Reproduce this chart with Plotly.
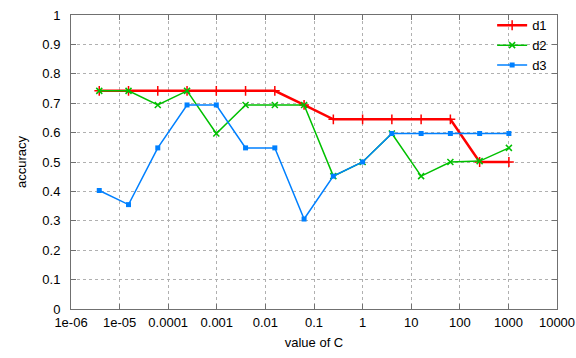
import plotly.graph_objects as go

C_values = [4.0**k for k in range(-9, 6)]
d1 = [0.742, 0.742, 0.742, 0.742, 0.742, 0.742, 0.742, 0.694, 0.645, 0.645, 0.645, 0.645, 0.645, 0.5, 0.5]
d2 = [0.742, 0.742, 0.694, 0.742, 0.597, 0.694, 0.694, 0.694, 0.452, 0.5, 0.597, 0.452, 0.5, 0.503, 0.548]
d3 = [0.403, 0.355, 0.548, 0.694, 0.694, 0.548, 0.548, 0.306, 0.452, 0.5, 0.597, 0.597, 0.597, 0.597, 0.597]

x_tickvals = [1e-6, 1e-5, 1e-4, 1e-3, 1e-2, 1e-1, 1, 10, 100, 1000, 10000]
x_ticktext = ["1e-06", "1e-05", "0.0001", "0.001", "0.01", "0.1", "1", "10", "100", "1000", "10000"]
y_tickvals = [0, 0.1, 0.2, 0.3, 0.4, 0.5, 0.6, 0.7, 0.8, 0.9, 1]
y_ticktext = ["0", "0.1", "0.2", "0.3", "0.4", "0.5", "0.6", "0.7", "0.8", "0.9", "1"]

fig = go.Figure()
fig.add_trace(go.Scatter(x=C_values, y=d1, name="d1", mode="lines+markers",
                         line=dict(color="#ff0000", width=2.5),
                         marker=dict(symbol="cross-thin-open", size=7, line=dict(color="#ff0000", width=1.5))))
fig.add_trace(go.Scatter(x=C_values, y=d2, name="d2", mode="lines+markers",
                         line=dict(color="#00c000", width=1.5),
                         marker=dict(symbol="x-thin-open", size=6, line=dict(color="#00c000", width=1.5))))
fig.add_trace(go.Scatter(x=C_values, y=d3, name="d3", mode="lines+markers",
                         line=dict(color="#0080ff", width=1.5),
                         marker=dict(symbol="square", size=5, color="#0080ff")))

axis_common = dict(showline=True, linecolor="#707070", linewidth=1, mirror="ticks",
                   ticks="inside", ticklen=5, tickcolor="#707070", automargin=False,
                   showgrid=True, gridcolor="#b0b0b0", griddash="dot", gridwidth=1,
                   zeroline=False, tickfont=dict(size=13, color="#000"))

fig.update_xaxes(type="log", range=[-6, 4], tickvals=x_tickvals, ticktext=x_ticktext,
                 ticklabelstandoff=1,
                 title=dict(text="value of C", font=dict(size=13), standoff=9), **axis_common)
fig.update_yaxes(range=[0, 1], tickvals=y_tickvals, ticktext=y_ticktext,
                 ticklabelstandoff=7,
                 title=dict(text="accuracy", font=dict(size=13), standoff=12), **axis_common)

fig.update_layout(width=576, height=358,
                  margin=dict(l=71, r=19, t=15, b=49, autoexpand=False),
                  paper_bgcolor="white", plot_bgcolor="white",
                  font=dict(family="Liberation Sans, Arial, sans-serif", size=13, color="#000"),
                  legend=dict(x=0.99, y=1.016, xanchor="right", yanchor="top",
                              bgcolor="rgba(0,0,0,0)", font=dict(size=13),
                              tracegroupgap=0, itemwidth=30))

fig.write_html("out.html", config={"displayModeBar": False},
               post_script="document.body.style.margin='0';document.body.style.overflow='hidden';")
